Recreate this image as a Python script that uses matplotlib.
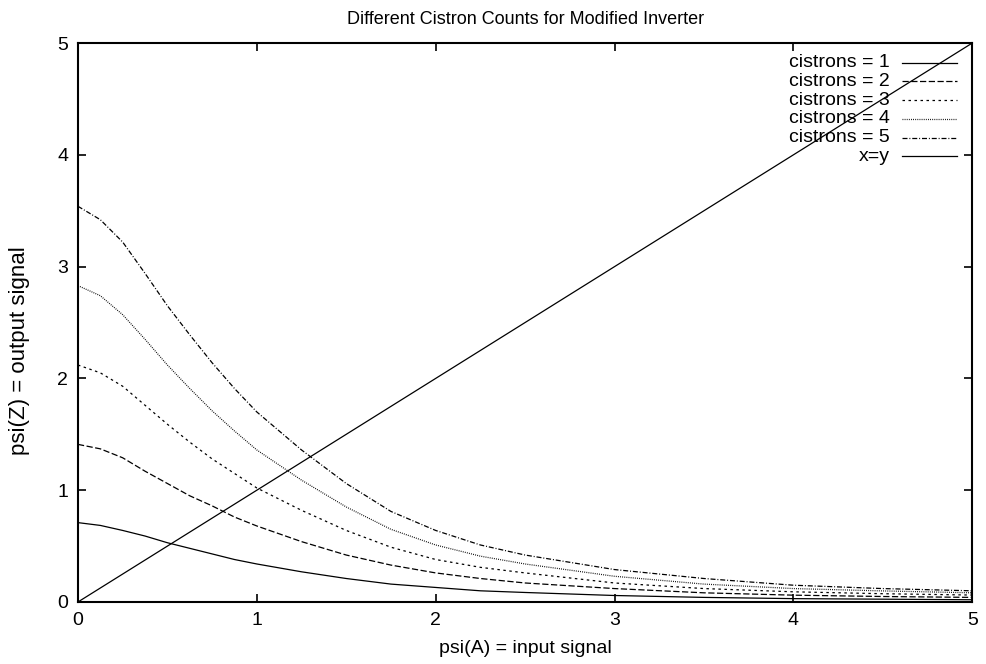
import matplotlib
matplotlib.use('Agg')
import matplotlib.pyplot as plt
from matplotlib.lines import Line2D

plt.rcParams['font.family'] = ['Liberation Sans', 'DejaVu Sans']

# ------------------------------------------------------------
# Data (psi(A) input vs psi(Z) output)
# ------------------------------------------------------------
x_vals = [0, 0.125, 0.25, 0.375, 0.5, 0.625, 0.75, 0.875, 1,
          1.25, 1.5, 1.75, 2, 2.25, 2.5, 3, 3.5, 4, 4.5, 5]

cistrons_1 = [0.71, 0.685, 0.64, 0.59, 0.53, 0.48, 0.43, 0.38, 0.34,
              0.27, 0.21, 0.16, 0.13, 0.10, 0.085, 0.058, 0.041, 0.030, 0.025, 0.020]
cistrons_2 = [1.41, 1.37, 1.29, 1.17, 1.06, 0.95, 0.86, 0.76, 0.68,
              0.54, 0.42, 0.33, 0.26, 0.21, 0.17, 0.12, 0.082, 0.061, 0.049, 0.041]
cistrons_3 = [2.12, 2.05, 1.93, 1.76, 1.59, 1.43, 1.28, 1.15, 1.02,
              0.82, 0.64, 0.49, 0.38, 0.31, 0.26, 0.17, 0.12, 0.091, 0.074, 0.062]
cistrons_4 = [2.83, 2.74, 2.57, 2.35, 2.12, 1.91, 1.71, 1.53, 1.36,
              1.09, 0.85, 0.65, 0.51, 0.41, 0.34, 0.23, 0.16, 0.12, 0.099, 0.082]
cistrons_5 = [3.54, 3.42, 3.22, 2.94, 2.65, 2.39, 2.14, 1.91, 1.70,
              1.36, 1.06, 0.81, 0.64, 0.51, 0.42, 0.29, 0.21, 0.15, 0.12, 0.10]

diag_x = [0, 5]
diag_y = [0, 5]

labels = ['cistrons = 1', 'cistrons = 2', 'cistrons = 3',
          'cistrons = 4', 'cistrons = 5', 'x=y']
ticks = [0, 1, 2, 3, 4, 5]

# gnuplot-ish line types
styles = [
    '-',
    (0, (5, 2)),
    (0, (2, 2.8)),
    (0, (0.7, 1.0)),
    (0, (4, 1.5, 0.8, 1.5)),
    '-',
]

fig = plt.figure(figsize=(9.87, 6.64), dpi=100)
ax = fig.add_axes([0.079, 0.0934, 0.906, 0.8417])

series = [cistrons_1, cistrons_2, cistrons_3, cistrons_4, cistrons_5]
for ys, ls in zip(series, styles[:5]):
    ax.plot(x_vals, ys, color='black', linestyle=ls, linewidth=0.9)
ax.plot(diag_x, diag_y, color='black', linestyle='-', linewidth=0.9)

ax.set_xlim(0, 5)
ax.set_ylim(0, 5)
ax.set_xticks(ticks)
ax.set_yticks(ticks)
ax.tick_params(direction='in', top=True, right=True, length=6, width=1.2,
               labelsize=14, pad=7)
for sp in ax.spines.values():
    sp.set_linewidth(1.5)

ax.set_title('Different Cistron Counts for Modified Inverter', fontsize=13, pad=14)
ax.set_xlabel('psi(A) = input signal', fontsize=14)
ax.set_ylabel('psi(Z) = output signal', fontsize=16)
ax.xaxis.set_label_coords(0.5, -0.068)
ax.yaxis.set_label_coords(-0.054, 0.45)

# key, gnuplot style: right-aligned text, sample line on the right
row0, step = 0.965, 0.0335
for i, (lab, ls) in enumerate(zip(labels, styles)):
    yk = row0 - i * step
    ax.text(0.908, yk, lab, transform=ax.transAxes, ha='right', va='center',
            fontsize=14)
    ax.add_line(Line2D([0.922, 0.983], [yk, yk], transform=ax.transAxes,
                       color='black', linestyle=ls, linewidth=0.9))

fig.savefig('out.png', dpi=100)
